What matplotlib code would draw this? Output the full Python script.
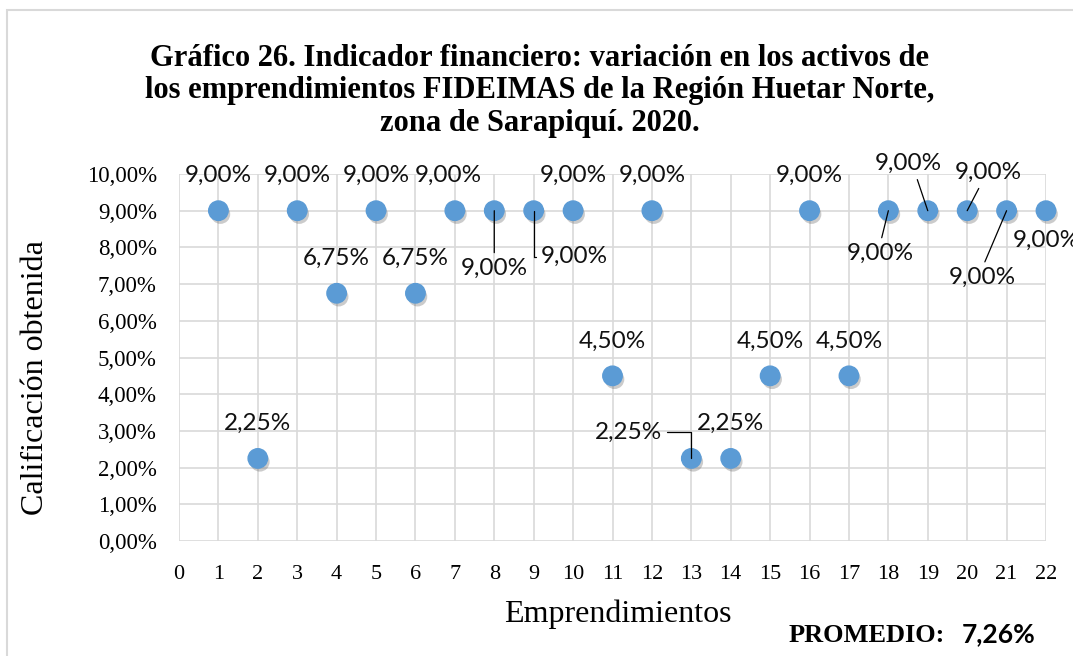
import matplotlib.pyplot as plt
import matplotlib.patheffects as pe
from matplotlib.patches import Rectangle
from matplotlib.ticker import FuncFormatter, MultipleLocator

# data
emprendimientos = list(range(1, 23))
calificacion = [9.00, 2.25, 9.00, 6.75, 9.00, 6.75, 9.00, 9.00, 9.00, 9.00, 4.50,
                9.00, 2.25, 2.25, 4.50, 9.00, 4.50, 9.00, 9.00, 9.00, 9.00, 9.00]
promedio = 7.26

title = ("Gráfico 26. Indicador financiero: variación en los activos de\n"
         "los emprendimientos FIDEIMAS de la Región Huetar Norte,\n"
         "zona de Sarapiquí. 2020.")

# label placement (offset in pixels from the point), leader line style
default_off = (0, 35)
label_off = {7: (-7, 35), 8: (0, -58), 9: (41, -46), 13: (-63, 26),
             18: (-8, -43), 19: (-19, 47), 20: (21, 38), 21: (-24, -67), 22: (0, -30)}
leaders = {8: ((0.5, 1), "arc3"),
           9: ((0, 0.5), "angle,angleA=0,angleB=90,rad=0"),
           13: ((1, 0.5), "angle,angleA=0,angleB=90,rad=0"),
           18: ((0.5, 1), "arc3"),
           19: ((0.6, 0), "arc3"),
           20: ((0.4, 0), "arc3"),
           21: ((0.5, 1), "arc3")}

serif = "Liberation Serif"
sans = "Lato"
grid_c = "#D9D9D9"
dot_c = "#5B9BD5"

fig = plt.figure(figsize=(10.73, 6.56), dpi=100)
fig.patches.append(Rectangle((7 / 1073, -0.1), 2, 1.1 - 10 / 656, transform=fig.transFigure,
                             fill=False, edgecolor=grid_c, lw=1.5))

ax = fig.add_axes([179 / 1073, 1 - 541 / 656, 867 / 1073, 367 / 656])
ax.set_xlim(0, 22)
ax.set_ylim(0, 10)
ax.xaxis.set_major_locator(MultipleLocator(1))
ax.yaxis.set_major_locator(MultipleLocator(1))
ax.yaxis.set_major_formatter(FuncFormatter(lambda v, p: f"{v:.2f}%".replace(".", ",")))
ax.grid(True, color=grid_c, lw=1.2)
ax.set_axisbelow(True)
for s in ax.spines.values():
    s.set_visible(False)
ax.tick_params(length=0)
ax.tick_params(axis="x", pad=17)
ax.tick_params(axis="y", pad=16)
for t in ax.get_xticklabels() + ax.get_yticklabels():
    t.set_fontfamily(serif)
for t in ax.get_xticklabels():
    t.set_fontsize(16)
for t in ax.get_yticklabels():
    t.set_fontsize(16.5)

ax.plot(emprendimientos, calificacion, "o", ms=14, color=dot_c, zorder=3, clip_on=False,
        path_effects=[pe.SimplePatchShadow(offset=(1.5, -2.5), shadow_rgbFace="#555555", alpha=0.3),
                      pe.Normal()])

for x, y in zip(emprendimientos, calificacion):
    txt = f"{y:.2f}%".replace(".", ",")
    off = label_off.get(x, default_off)
    kw = {}
    if x in leaders:
        rel, cs = leaders[x]
        kw["arrowprops"] = dict(arrowstyle="-", color="black", lw=0.9, shrinkA=2, shrinkB=0,
                                relpos=rel, connectionstyle=cs)
    ax.annotate(txt, (x, y), xytext=off, textcoords="offset pixels", ha="center", va="center",
                fontsize=17.5, family=sans, color="#111111", zorder=4, annotation_clip=False, **kw)

fig.text(0.503, 1 - 44 / 656, title, ha="center", va="top", fontsize=22, fontweight="bold",
         family=serif, linespacing=1.15)
fig.text(36 / 1073, 1 - 378 / 656, "Calificación obtenida", rotation=90, ha="center", va="center",
         fontsize=23, family=serif)
fig.text(618 / 1073, 1 - 622 / 656, "Emprendimientos", ha="center", va="baseline",
         fontsize=23, family=serif)
fig.text(945 / 1073, 1 - 642 / 656, "PROMEDIO:", ha="right", va="baseline",
         fontsize=19, fontweight="bold", family=serif)
fig.text(962 / 1073, 1 - 642 / 656, f"{promedio:.2f}%".replace(".", ","), ha="left", va="baseline",
         fontsize=19, fontweight="bold", family=sans)

fig.savefig("out.png", dpi=100)
